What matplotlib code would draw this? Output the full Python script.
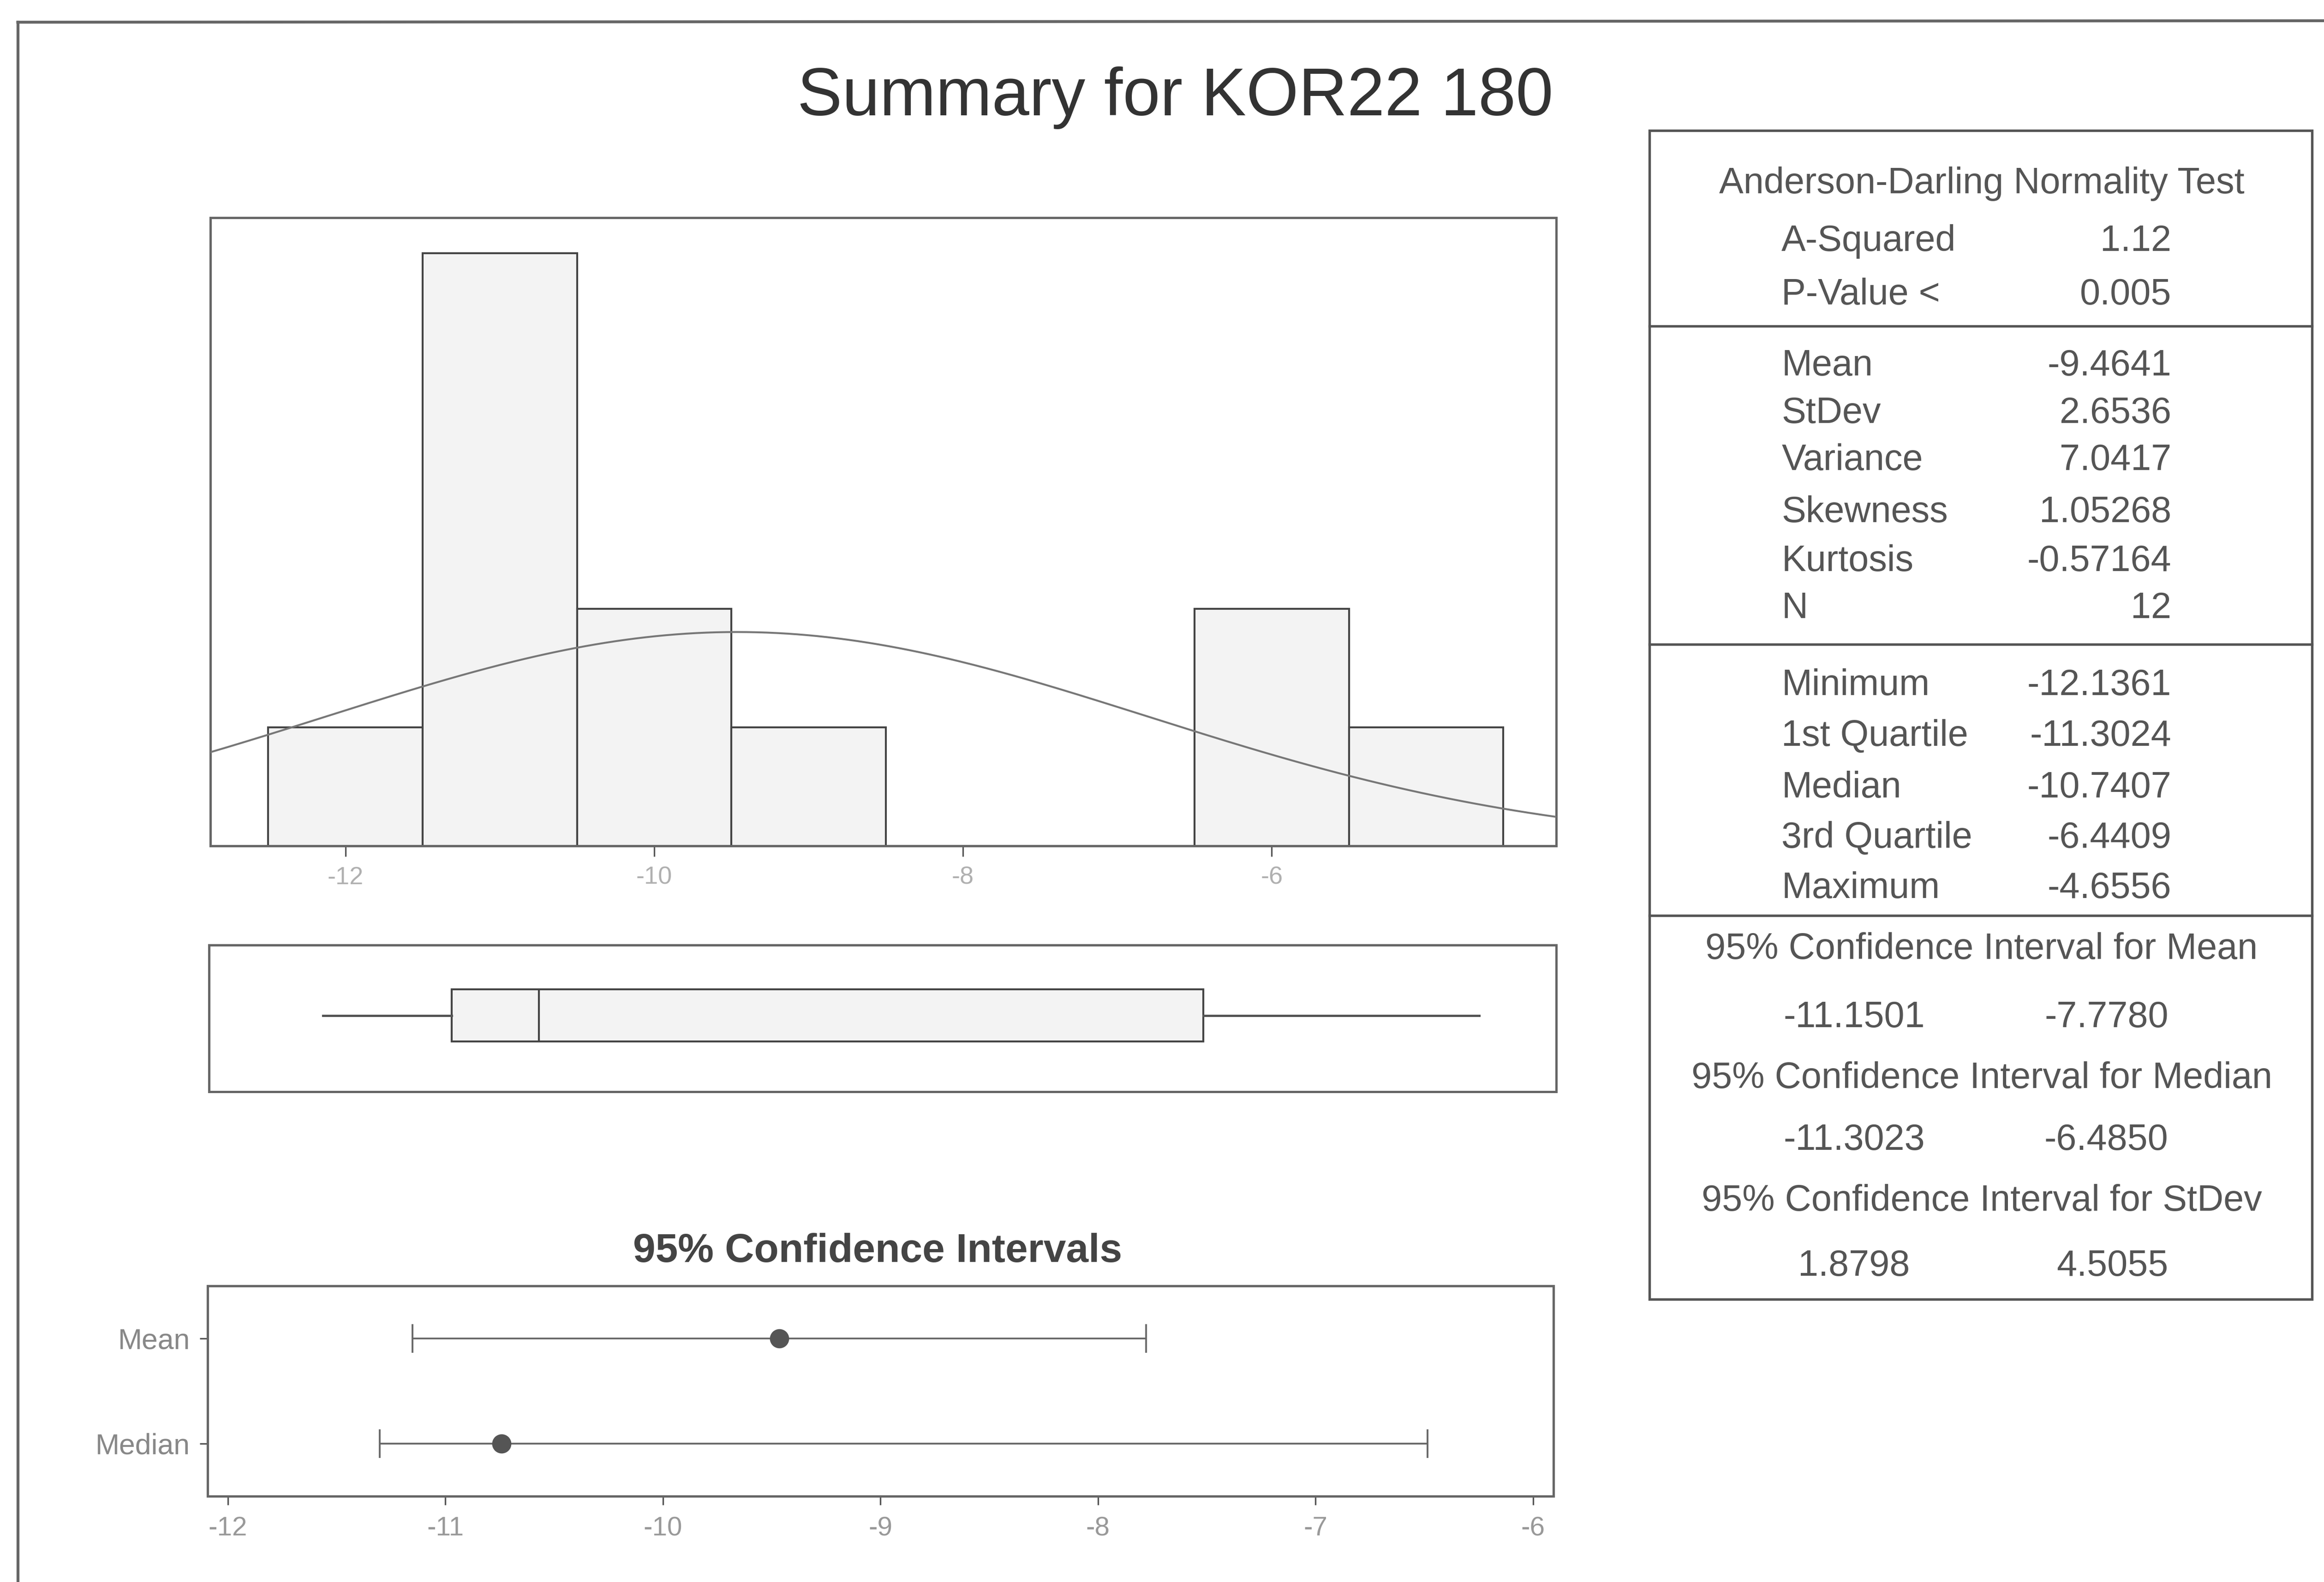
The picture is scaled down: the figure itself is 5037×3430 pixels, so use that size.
import numpy as np
import matplotlib.pyplot as plt
from matplotlib.lines import Line2D
from matplotlib.patches import Rectangle

plt.rcParams['font.family'] = ['Liberation Sans', 'DejaVu Sans']
plt.rcParams['axes.unicode_minus'] = False

title = "Summary for KOR22 180"
bin_edges = [-12.5, -11.5, -10.5, -9.5, -8.5, -7.5, -6.5, -5.5, -4.5]
bin_counts = [1, 5, 2, 1, 0, 0, 2, 1]
hist_ticks = [-12, -10, -8, -6]

a_squared = 1.12
p_value = 0.005
mean = -9.4641
stdev = 2.6536
variance = 7.0417
skewness = 1.05268
kurtosis = -0.57164
n = 12
minimum = -12.1361
q1 = -11.3024
median = -10.7407
q3 = -6.4409
maximum = -4.6556
ci_mean = [-11.1501, -7.7780]
ci_median = [-11.3023, -6.4850]
ci_stdev = [1.8798, 4.5055]
ci_names = ["Mean", "Median"]
ci_ticks = [-12, -11, -10, -9, -8, -7, -6]

ad_labels = ["A-Squared", "P-Value <"]
ad_values = [f"{a_squared:.2f}", f"{p_value:.3f}"]
desc_labels = ["Mean", "StDev", "Variance", "Skewness", "Kurtosis", "N"]
desc_values = [f"{mean:.4f}", f"{stdev:.4f}", f"{variance:.4f}",
               f"{skewness:.5f}", f"{kurtosis:.5f}", f"{n:d}"]
quart_labels = ["Minimum", "1st Quartile", "Median", "3rd Quartile", "Maximum"]
quart_values = [f"{v:.4f}" for v in [minimum, q1, median, q3, maximum]]
ci_headers = ["95% Confidence Interval for Mean",
              "95% Confidence Interval for Median",
              "95% Confidence Interval for StDev"]
ci_pairs = [ci_mean, ci_median, ci_stdev]

# layout helpers, coordinates measured on a 1568x1068 view
W, H = 1568.0, 1068.0
def fx(px):
    return px / W
def fy(py):
    return 1 - py / H
def rect(l, t, r, b):
    return [fx(l), fy(b), (r - l) / W, (b - t) / H]

fig = plt.figure(figsize=(5037 / 300, 3430 / 300), dpi=300)
fig.patch.set_facecolor('white')

edge = '#555555'
fill = '#f3f3f3'

# outer frame (runs off the right and bottom)
fig.add_artist(Line2D([fx(12), 1], [fy(15), fy(14)], transform=fig.transFigure, color='#666666', lw=1.5))
fig.add_artist(Line2D([fx(12), fx(12)], [fy(15), 0], transform=fig.transFigure, color='#666666', lw=1.5))

fig.text(fx(793), fy(66), title, fontsize=35, color='#333333', ha='center', va='center')

# histogram with fitted normal curve
ax_h = fig.add_axes(rect(142, 147, 1050, 571))
xlo, xhi = -12.874, -4.157
ax_h.bar(bin_edges[:-1], bin_counts, width=np.diff(bin_edges), align='edge',
         color=fill, edgecolor='#444444', linewidth=1.0, zorder=2)
xs = np.linspace(xlo, xhi, 400)
bw = bin_edges[1] - bin_edges[0]
ys = n * bw * np.exp(-0.5 * ((xs - mean) / stdev) ** 2) / (stdev * np.sqrt(2 * np.pi))
ax_h.plot(xs, ys, color='#777777', lw=1.0, zorder=3)
ax_h.set_xlim(xlo, xhi)
ax_h.set_ylim(0, 5.3)
ax_h.set_yticks([])
ax_h.set_xticks(hist_ticks)
ax_h.tick_params(axis='x', direction='out', length=5.5, width=0.8, color='#555555',
                 labelcolor='#b0b0b0', labelsize=13, pad=5)

# boxplot
ax_b = fig.add_axes(rect(141, 638, 1050, 737))
ax_b.bxp([{'med': median, 'q1': q1, 'q3': q3, 'whislo': minimum, 'whishi': maximum, 'fliers': []}],
         positions=[0.52], widths=0.354, orientation='horizontal', patch_artist=True,
         showcaps=False, showfliers=False,
         boxprops=dict(facecolor=fill, edgecolor='#444444', linewidth=1.0),
         medianprops=dict(color='#444444', linewidth=1.0),
         whiskerprops=dict(color='#555555', linewidth=1.2))
ax_b.set_xlim(xlo, xhi)
ax_b.set_ylim(0, 1)
ax_b.set_xticks([])
ax_b.set_yticks([])

# confidence intervals
ax_c = fig.add_axes(rect(140, 868, 1048, 1010))
ci_y = [0.75, 0.25]
for y, pt, (lo, hi) in zip(ci_y, [mean, median], [ci_mean, ci_median]):
    ax_c.errorbar([pt], [y], xerr=[[pt - lo], [hi - pt]], fmt='o', color='#555555',
                  ecolor='#666666', elinewidth=0.9, capsize=7.5, capthick=0.9, markersize=9)
ax_c.set_xlim(-12.093, -5.907)
ax_c.set_ylim(0, 1)
ax_c.set_xticks(ci_ticks)
ax_c.set_yticks(ci_y)
ax_c.set_yticklabels(ci_names)
ax_c.tick_params(axis='x', direction='out', length=4.5, width=0.8, color='#555555',
                 labelcolor='#999999', labelsize=14, pad=6)
ax_c.tick_params(axis='y', direction='out', length=4, width=0.8, color='#555555',
                 labelcolor='#888888', labelsize=15, pad=5)
fig.text(fx(592), fy(845), "95% Confidence Intervals", fontsize=21, fontweight='bold',
         color='#444444', ha='center', va='center')

for a in (ax_h, ax_b, ax_c):
    for s in a.spines.values():
        s.set_color('#666666')
        s.set_linewidth(1.2)

# statistics table
tl, tr, tt, tb = 1113, 1560, 88, 877
fig.add_artist(Rectangle((fx(tl), fy(tb)), (tr - tl) / W, (tb - tt) / H, transform=fig.transFigure,
                         fill=False, ec='#555555', lw=1.3))
for yd in [220, 435, 618]:
    fig.add_artist(Line2D([fx(tl), fx(tr)], [fy(yd), fy(yd)], transform=fig.transFigure,
                          color='#555555', lw=1.3))

tc = '#555555'
fs = 19
lab_x, val_x = fx(1202), fx(1465)
fig.text(fx(1337), fy(124), "Anderson-Darling Normality Test", fontsize=fs, color=tc, ha='center', va='center')
for lab, val, yy in zip(ad_labels, ad_values, [163, 199]):
    fig.text(lab_x, fy(yy), lab, fontsize=fs, color=tc, ha='left', va='center')
    fig.text(val_x, fy(yy), val, fontsize=fs, color=tc, ha='right', va='center')
for lab, val, yy in zip(desc_labels, desc_values, [247, 279, 311, 346, 379, 411]):
    fig.text(lab_x, fy(yy), lab, fontsize=fs, color=tc, ha='left', va='center')
    fig.text(val_x, fy(yy), val, fontsize=fs, color=tc, ha='right', va='center')
for lab, val, yy in zip(quart_labels, quart_values, [463, 497, 532, 566, 600]):
    fig.text(lab_x, fy(yy), lab, fontsize=fs, color=tc, ha='left', va='center')
    fig.text(val_x, fy(yy), val, fontsize=fs, color=tc, ha='right', va='center')
for head, (lo, hi), yh, yv in zip(ci_headers, ci_pairs, [641, 728, 811], [687, 770, 855]):
    fig.text(fx(1337), fy(yh), head, fontsize=fs, color=tc, ha='center', va='center')
    fig.text(fx(1251), fy(yv), f"{lo:.4f}", fontsize=fs, color=tc, ha='center', va='center')
    fig.text(fx(1463), fy(yv), f"{hi:.4f}", fontsize=fs, color=tc, ha='right', va='center')

fig.savefig('out.png', dpi=300)
